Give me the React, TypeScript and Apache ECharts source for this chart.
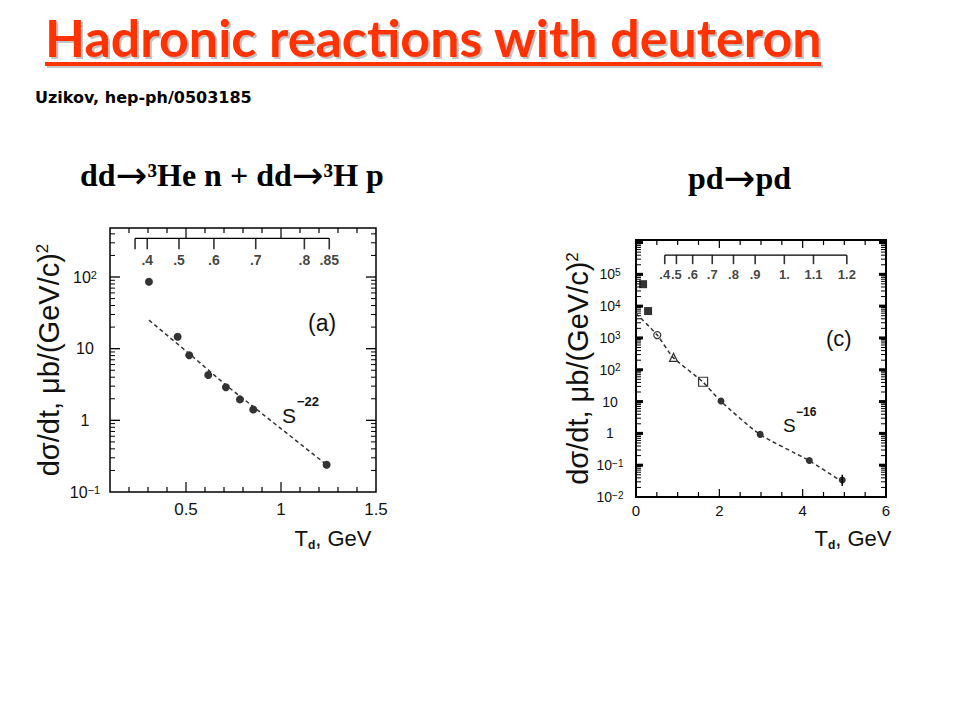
import React, { useEffect, useRef } from 'react';
import * as echarts from 'echarts';

// ---------- Panel (a): dd -> 3He n + dd -> 3H p ----------
const aT = [0.305, 0.456, 0.517, 0.617, 0.71, 0.784, 0.854, 1.24];
const aSigma = [86, 14.7, 8.1, 4.3, 2.9, 1.96, 1.42, 0.24];
const aFitT = [0.305, 0.52, 0.71, 0.854, 1.24];
const aFitSigma = [25, 8.4, 3.1, 1.55, 0.24];
const aTopTickT = [0.232, 0.296, 0.463, 0.647, 0.867, 1.123, 1.254];
const aTopTickLabels = ['', '.4', '.5', '.6', '.7', '.8', '.85'];
const aTopAxisLevel = 347;
const aXRange = [0.1, 1.5];
const aYRange = [0.1, 483];
const aYLabelMaxExp = 2;

// ---------- Panel (c): pd -> pd ----------
const cFilledSqT = [0.17, 0.29];
const cFilledSqSigma = [49000, 7000];
const cOpenCircT = [0.51];
const cOpenCircSigma = [1230];
const cOpenTriT = [0.9];
const cOpenTriSigma = [245];
const cOpenSqT = [1.61];
const cOpenSqSigma = [42];
const cFilledCircT = [2.04, 2.98, 4.16, 4.95];
const cFilledCircSigma = [10.4, 0.93, 0.14, 0.034];
const cErrT = [4.95, 4.95];
const cErrSigma = [0.022, 0.05];
const cFitT = [0, 0.51, 0.89, 1.6, 2.03, 2.96, 4.13, 4.92];
const cFitSigma = [5900, 1230, 245, 42, 10.4, 0.95, 0.145, 0.032];
const cTopTickT = [0.69, 0.97, 1.36, 1.83, 2.34, 2.86, 3.56, 4.26, 5.06];
const cTopTickLabels = ['.4', '.5', '.6', '.7', '.8', '.9', '1.', '1.1', '1.2'];
const cTopAxisLevel = 4.0e5;
const cXRange = [0, 6];
const cYRange = [0.01, 1.2e6];
const cYLabelMaxExp = 5;

const zip = (xs: number[], ys: number[]) => xs.map((x, i) => [x, ys[i]]);

const SANS = '"Liberation Sans", Arial, sans-serif';
const SERIF = '"Liberation Serif", "Times New Roman", serif';

function makeLogLabel(maxExp: number) {
  return (v: number) => {
    const l = Math.log10(v);
    const e = Math.round(l);
    if (Math.abs(l - e) > 1e-3 || e > maxExp) return '';
    if (e === 0) return '1';
    if (e === 1) return '10';
    return '10{sup|' + (e < 0 ? '\u2212' + -e : String(e)) + '}';
  };
}

function logTicks(yr: number[]) {
  const out: number[][] = [];
  const d0 = Math.floor(Math.log10(yr[0]));
  const d1 = Math.ceil(Math.log10(yr[1]));
  for (let d = d0; d <= d1; d++) {
    for (let k = 1; k <= 9; k++) {
      const v = k * Math.pow(10, d);
      if (v > yr[0] * 1.0001 && v < yr[1] * 0.9999) out.push([v, k === 1 ? 1 : 0]);
    }
  }
  return out;
}

function linTicks(xr: number[], step: number, majorEvery: number) {
  const out: number[][] = [];
  const n = Math.round((xr[1] - xr[0]) / step);
  const start = Math.round(xr[0] / step);
  for (let i = start + 1; i < start + n; i++) {
    const v = +(i * step).toFixed(6);
    out.push([v, Math.abs(v / majorEvery - Math.round(v / majorEvery)) < 1e-6 ? 1 : 0]);
  }
  return out;
}

function yTickSeries(grid: number, xr: number[], yr: number[], majLen: number, majW: number, minLen: number) {
  return {
    type: 'custom',
    xAxisIndex: grid,
    yAxisIndex: grid,
    silent: true,
    clip: false,
    data: logTicks(yr).map((t) => [xr[0], t[0], t[1]]),
    renderItem: (params: any, api: any) => {
      const yv = api.value(1);
      const major = api.value(2) === 1;
      const pL = api.coord([xr[0], yv]);
      const pR = api.coord([xr[1], yv]);
      const len = major ? majLen : minLen;
      const style = { stroke: '#000', lineWidth: major ? majW : 1 };
      return {
        type: 'group',
        children: [
          { type: 'line', shape: { x1: pL[0], y1: pL[1], x2: pL[0] + len, y2: pL[1] }, style },
          { type: 'line', shape: { x1: pR[0], y1: pR[1], x2: pR[0] - len, y2: pR[1] }, style },
        ],
      };
    },
  };
}

function xTickSeries(grid: number, xr: number[], yr: number[], step: number, majorEvery: number, majLen: number, minLen: number) {
  return {
    type: 'custom',
    xAxisIndex: grid,
    yAxisIndex: grid,
    silent: true,
    clip: false,
    data: linTicks(xr, step, majorEvery).map((t) => [t[0], yr[0], t[1]]),
    renderItem: (params: any, api: any) => {
      const xv = api.value(0);
      const major = api.value(2) === 1;
      const pB = api.coord([xv, yr[0]]);
      const pT = api.coord([xv, yr[1]]);
      const len = major ? majLen : minLen;
      const style = { stroke: '#000', lineWidth: 1.2 };
      return {
        type: 'group',
        children: [
          { type: 'line', shape: { x1: pB[0], y1: pB[1], x2: pB[0], y2: pB[1] - len }, style },
          { type: 'line', shape: { x1: pT[0], y1: pT[1], x2: pT[0], y2: pT[1] + len }, style },
        ],
      };
    },
  };
}

function topAxisSeries(grid: number, ticks: number[], labels: string[], level: number, tickLen: number, fontSize: number) {
  return [
    {
      type: 'line',
      xAxisIndex: grid,
      yAxisIndex: grid,
      silent: true,
      showSymbol: false,
      data: [[ticks[0], level], [ticks[ticks.length - 1], level]],
      lineStyle: { color: '#000', width: 1.3 },
    },
    {
      type: 'scatter',
      xAxisIndex: grid,
      yAxisIndex: grid,
      silent: true,
      symbol: 'rect',
      symbolSize: [1.6, tickLen],
      symbolOffset: [0, tickLen / 2],
      itemStyle: { color: '#000' },
      data: ticks.map((t, i) => ({ value: [t, level], name: labels[i] })),
      label: {
        show: true,
        position: 'bottom',
        distance: 4,
        formatter: '{b}',
        fontFamily: SANS,
        fontSize,
        fontWeight: 'bold',
        color: '#111',
      },
    },
  ];
}

const richSup = (fs: number) => ({ sup: { fontSize: fs, verticalAlign: 'top', lineHeight: fs, fontFamily: SANS, color: '#111' } });

const yNameText = '{t|d\u03c3/dt, \u03bcb/(GeV/c)}{s|2}';
const xNameText = '{t|T}{s|d}{t|, GeV}';
const yNameStyle = {
  rich: {
    t: { fontSize: 29, fontFamily: SANS, color: '#111' },
    s: { fontSize: 17, fontFamily: SANS, color: '#111', verticalAlign: 'top', lineHeight: 17 },
  },
};
const xNameStyle = (pad: number) => ({
  padding: [0, 0, 0, pad],
  rich: {
    t: { fontSize: 22, fontFamily: SANS, color: '#111', lineHeight: 26 },
    s: { fontSize: 12, fontFamily: SANS, fontWeight: 'bold', color: '#111', verticalAlign: 'bottom', lineHeight: 12 },
  },
});

const reactionRich = {
  a: { fontFamily: SERIF, fontWeight: 'bold', fontSize: 32, color: '#000', lineHeight: 40 },
  r: { fontFamily: '"DejaVu Sans", sans-serif', fontSize: 38, color: '#000', lineHeight: 40 },
};

const option: any = {
  animation: false,
  backgroundColor: '#fff',
  grid: [
    { left: 110, top: 228, width: 266, height: 264, show: true, borderColor: '#000', borderWidth: 1.5, backgroundColor: 'transparent' },
    { left: 636, top: 240, width: 250, height: 257, show: true, borderColor: '#000', borderWidth: 2, backgroundColor: 'transparent' },
  ],
  xAxis: [
    {
      gridIndex: 0,
      type: 'value',
      min: aXRange[0],
      max: aXRange[1],
      splitNumber: 3,
      axisLine: { show: false },
      axisTick: { show: false },
      splitLine: { show: false },
      axisLabel: {
        margin: 9,
        fontFamily: SANS,
        fontSize: 17,
        color: '#111',
        formatter: (v: number) => (Math.abs(v - 0.1) < 1e-6 ? '' : String(v)),
      },
      name: xNameText,
      nameLocation: 'middle',
      nameGap: 33,
      nameTextStyle: xNameStyle(180),
    },
    {
      gridIndex: 1,
      type: 'value',
      min: cXRange[0],
      max: cXRange[1],
      interval: 2,
      axisLine: { show: false },
      axisTick: { show: false },
      splitLine: { show: false },
      axisLabel: { margin: 6, fontFamily: SANS, fontSize: 15, color: '#111' },
      name: xNameText,
      nameLocation: 'middle',
      nameGap: 28,
      nameTextStyle: xNameStyle(184),
    },
  ],
  yAxis: [
    {
      gridIndex: 0,
      type: 'log',
      min: aYRange[0],
      max: aYRange[1],
      axisLine: { show: false },
      axisTick: { show: false },
      splitLine: { show: false },
      axisLabel: {
        margin: 25,
        align: 'center',
        fontFamily: SANS,
        fontSize: 16,
        color: '#111',
        formatter: makeLogLabel(aYLabelMaxExp),
        rich: richSup(11),
      },
      name: yNameText,
      nameLocation: 'middle',
      nameRotate: 90,
      nameGap: 47,
      nameTextStyle: yNameStyle,
    },
    {
      gridIndex: 1,
      type: 'log',
      min: cYRange[0],
      max: cYRange[1],
      axisLine: { show: false },
      axisTick: { show: false },
      splitLine: { show: false },
      axisLabel: {
        margin: 26,
        align: 'center',
        fontFamily: SANS,
        fontSize: 14,
        color: '#111',
        formatter: makeLogLabel(cYLabelMaxExp),
        rich: richSup(10),
      },
      name: yNameText,
      nameLocation: 'middle',
      nameRotate: 90,
      nameGap: 43,
      nameTextStyle: yNameStyle,
    },
  ],
  graphic: [
    { type: 'rect', shape: { x: 47, y: 65, width: 776, height: 3 }, style: { fill: '#c8c8c8' } },
    { type: 'rect', shape: { x: 45, y: 62, width: 776, height: 4 }, style: { fill: '#ff3300' } },
    {
      type: 'text', x: 45, y: 11,
      style: {
        text: 'Hadronic reactions with deuteron',
        fontFamily: 'Lato, sans-serif', fontWeight: 'bold', fontSize: 52,
        fill: '#ff3300', verticalAlign: 'top',
        textShadowColor: 'rgba(120,120,120,0.45)', textShadowOffsetX: 2, textShadowOffsetY: 2, textShadowBlur: 1,
      },
    },
    {
      type: 'text', x: 35, y: 97,
      style: { text: 'Uzikov, hep-ph/0503185', fontFamily: '"DejaVu Sans", sans-serif', fontWeight: 'bold', fontSize: 16, fill: '#000', verticalAlign: 'middle' },
    },
    {
      type: 'text', x: 80, y: 175,
      style: { text: '{a|dd}{r|\u2192}{a|\u00b3He n + dd}{r|\u2192}{a|\u00b3H p}', rich: reactionRich, verticalAlign: 'middle' },
    },
    {
      type: 'text', x: 688, y: 178,
      style: { text: '{a|pd}{r|\u2192}{a|pd}', rich: reactionRich, verticalAlign: 'middle' },
    },
    { type: 'text', x: 308, y: 323, style: { text: '(a)', fontFamily: SANS, fontSize: 23, fill: '#111', verticalAlign: 'middle' } },
    { type: 'text', x: 282, y: 415, style: { text: 'S', fontFamily: SANS, fontSize: 21, fill: '#111', verticalAlign: 'middle' } },
    { type: 'text', x: 297, y: 401, style: { text: '\u221222', fontFamily: SANS, fontSize: 13, fontWeight: 'bold', fill: '#111', verticalAlign: 'middle' } },
    { type: 'text', x: 826, y: 338, style: { text: '(c)', fontFamily: SANS, fontSize: 22, fill: '#111', verticalAlign: 'middle' } },
    { type: 'text', x: 783, y: 425, style: { text: 'S', fontFamily: SANS, fontSize: 19, fill: '#111', verticalAlign: 'middle' } },
    { type: 'text', x: 796, y: 412, style: { text: '\u221216', fontFamily: SANS, fontSize: 12, fontWeight: 'bold', fill: '#111', verticalAlign: 'middle' } },
  ],
  series: [
    yTickSeries(0, aXRange, aYRange, 10, 1.3, 5),
    xTickSeries(0, aXRange, aYRange, 0.1, 0.5, 10, 5),
    yTickSeries(1, cXRange, cYRange, 7, 3, 5),
    xTickSeries(1, cXRange, cYRange, 0.5, 2, 8, 5),
    ...topAxisSeries(0, aTopTickT, aTopTickLabels, aTopAxisLevel, 11, 14),
    ...topAxisSeries(1, cTopTickT, cTopTickLabels, cTopAxisLevel, 9, 13),
    {
      name: 'fit a', type: 'line', xAxisIndex: 0, yAxisIndex: 0, silent: true, showSymbol: false,
      data: zip(aFitT, aFitSigma), lineStyle: { color: '#333', width: 1.5, type: [4, 3] },
    },
    {
      name: 'data a', type: 'scatter', xAxisIndex: 0, yAxisIndex: 0, symbol: 'circle', symbolSize: 8,
      itemStyle: { color: '#000' }, data: zip(aT, aSigma),
    },
    {
      name: 'fit c', type: 'line', xAxisIndex: 1, yAxisIndex: 1, silent: true, showSymbol: false, smooth: 0.2,
      data: zip(cFitT, cFitSigma), lineStyle: { color: '#333', width: 1.5, type: [4, 3] },
    },
    {
      name: 'err c', type: 'line', xAxisIndex: 1, yAxisIndex: 1, silent: true, showSymbol: false,
      data: zip(cErrT, cErrSigma), lineStyle: { color: '#000', width: 1.5 },
    },
    {
      name: 'filled sq', type: 'scatter', xAxisIndex: 1, yAxisIndex: 1, symbol: 'rect', symbolSize: 8,
      itemStyle: { color: '#000' }, data: zip(cFilledSqT, cFilledSqSigma),
    },
    {
      name: 'open circ', type: 'scatter', xAxisIndex: 1, yAxisIndex: 1, symbol: 'circle', symbolSize: 7,
      itemStyle: { color: '#fff', borderColor: '#000', borderWidth: 1.2 }, data: zip(cOpenCircT, cOpenCircSigma),
    },
    {
      name: 'open tri', type: 'scatter', xAxisIndex: 1, yAxisIndex: 1, symbol: 'triangle', symbolSize: 8,
      itemStyle: { color: '#fff', borderColor: '#000', borderWidth: 1.2 }, data: zip(cOpenTriT, cOpenTriSigma),
    },
    {
      name: 'open sq', type: 'scatter', xAxisIndex: 1, yAxisIndex: 1, symbol: 'rect', symbolSize: 9,
      itemStyle: { color: '#fff', borderColor: '#000', borderWidth: 1.2 }, data: zip(cOpenSqT, cOpenSqSigma),
    },
    {
      name: 'filled circ', type: 'scatter', xAxisIndex: 1, yAxisIndex: 1, symbol: 'circle', symbolSize: 7,
      itemStyle: { color: '#000' }, data: zip(cFilledCircT, cFilledCircSigma),
    },
  ],
};

export default function App() {
  const ref = useRef<HTMLDivElement>(null);
  useEffect(() => {
    const chart = echarts.init(ref.current as HTMLDivElement, null, { renderer: 'svg' });
    chart.setOption(option);
    return () => chart.dispose();
  }, []);
  return (
    <div
      ref={ref}
      style={{ position: 'absolute', left: 0, top: 0, width: 960, height: 720, background: '#fff' }}
    />
  );
}
